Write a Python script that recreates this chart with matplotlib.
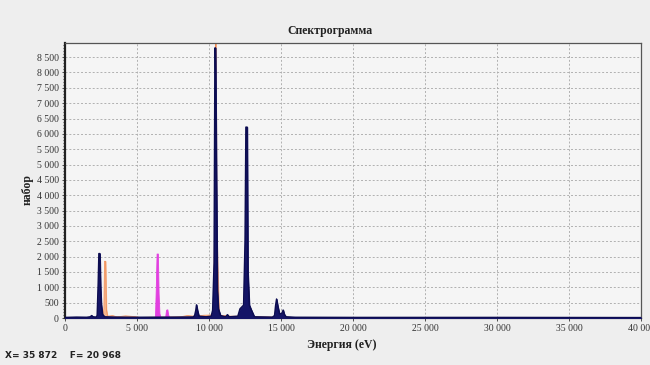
import numpy as np
import matplotlib
matplotlib.use("Agg")
from matplotlib import pyplot as plt
from matplotlib.ticker import FuncFormatter, MultipleLocator

# navy spectrum (eV, counts)
navy_energy = [0, 800, 1500, 1750, 1850, 1950, 2150, 2230, 2300, 2350, 2420, 2470,
               2520, 2600, 2750, 3500, 5000, 7500, 8900, 9000, 9080, 9130, 9200,
               9300, 9800, 10150, 10250, 10350, 10410, 10450, 10520, 10580, 10650,
               10800, 11150, 11280, 11400, 12000, 12150, 12400, 12500, 12560, 12650,
               12700, 12800, 12950, 13150, 14400, 14550, 14620, 14690, 14780, 14900,
               15050, 15150, 15230, 15350, 16000, 20000, 30000, 40000]
navy_counts = [20, 30, 25, 40, 80, 40, 30, 80, 1100, 2100, 2100, 1000,
               450, 120, 40, 30, 25, 30, 35, 80, 250, 430, 250,
               60, 40, 60, 250, 1800, 8800, 8800, 4400, 900, 300,
               80, 40, 110, 40, 60, 300, 420, 2500, 6220, 6220,
               1500, 420, 250, 40, 30, 80, 400, 620, 380, 130,
               150, 260, 120, 40, 25, 20, 20, 15]

# orange spectrum
orange_energy = [0, 2600, 2700, 2740, 2820, 2870, 2950, 3300, 3600, 4200, 4800,
                 5200, 8000, 8500, 9000, 9600, 10300, 10420, 10440, 10480, 10520,
                 10700, 11000, 11500, 12000, 13500, 16000, 40000]
orange_counts = [0, 0, 300, 1850, 1850, 300, 60, 80, 40, 70, 50,
                 20, 40, 80, 60, 90, 100, 4000, 8950, 8950, 3000,
                 100, 80, 60, 60, 40, 20, 0]

# magenta spectrum
magenta_energy = [6000, 6250, 6300, 6360, 6450, 6500, 6560, 6650, 6950, 7010, 7050, 7110, 7160, 7250]
magenta_counts = [0, 40, 900, 2100, 2100, 800, 150, 0, 0, 250, 280, 280, 120, 0]

x_ticks = list(range(0, 40001, 5000))
y_ticks = list(range(0, 8501, 500))

fig = plt.figure(figsize=(6.5, 3.65), dpi=100, facecolor="#eeeeee")
ax = fig.add_axes([65 / 650, 1 - 318 / 365, 576 / 650, 275 / 365])
ax.set_facecolor("#f5f5f5")

ax.fill_between(orange_energy, orange_counts, color="#f6b48c", lw=0.6, zorder=2)
ax.plot(orange_energy, orange_counts, color="#f08a50", lw=0.5, zorder=2)
ax.fill_between(magenta_energy, magenta_counts, color="#e23fe0", lw=0.6, zorder=3)
ax.fill_between(navy_energy, navy_counts, color="#141466", lw=0.8, zorder=4)
ax.plot(navy_energy, navy_counts, color="#0c0c50", lw=1.0, zorder=4)

ax.set_xlim(0, 40000)
ax.set_ylim(0, 8960)
ax.set_xticks(x_ticks)
ax.set_yticks(y_ticks)
ax.yaxis.set_minor_locator(MultipleLocator(100))
fmt = FuncFormatter(lambda v, p: f"{int(v):,}".replace(",", " "))
ax.xaxis.set_major_formatter(fmt)
ax.yaxis.set_major_formatter(fmt)
ax.grid(True, color="#b0b0b0", ls=(0, (2, 2)), lw=0.7, zorder=0)
ax.set_axisbelow(True)

for lab in ax.get_xticklabels() + ax.get_yticklabels():
    lab.set_family("Liberation Serif")
    lab.set_fontsize(7)
    lab.set_color("#333333")
ax.tick_params(which="both", length=2.5, width=0.6, pad=2, colors="#333333")
ax.tick_params(which="minor", length=1.5)
for s in ax.spines.values():
    s.set_color("#555555")
    s.set_linewidth(0.9)
ax.spines["left"].set_linewidth(1.6)
ax.spines["left"].set_color("#222222")

fig.text(0.507, 1 - 31 / 365, "Спектрограмма", ha="center", va="center",
         family="Liberation Serif", weight="bold", fontsize=8.5, color="#222222")
fig.text(342 / 650, 1 - 345 / 365, "Энергия (eV)", ha="center", va="center",
         family="Liberation Serif", weight="bold", fontsize=8.5, color="#222222")
fig.text(28 / 650, 1 - 190 / 365, "набор", ha="center", va="center", rotation=90,
         family="Liberation Serif", weight="bold", fontsize=8.5, color="#222222")
fig.text(5 / 650, 1 - 355 / 365, "X= 35 872    F= 20 968", ha="left", va="center",
         family="DejaVu Sans", weight="bold", fontsize=6.5, color="#222222")

fig.savefig("out.png", dpi=100, facecolor=fig.get_facecolor())
